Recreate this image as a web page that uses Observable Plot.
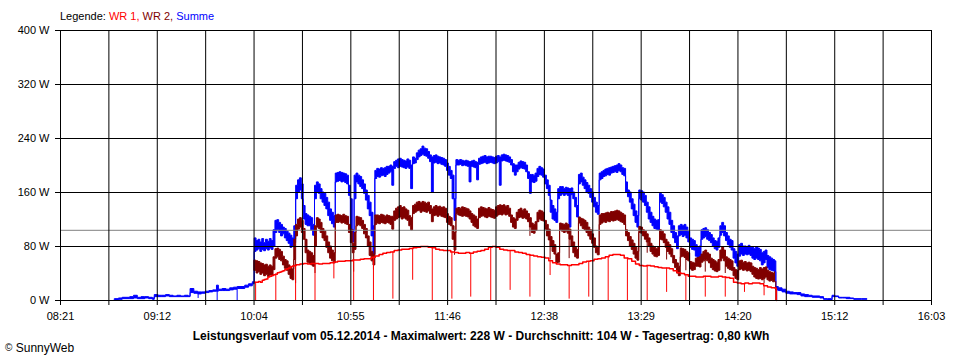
<!DOCTYPE html>
<html>
<head>
<meta charset="utf-8">
<script src="https://cdn.jsdelivr.net/npm/d3@7"></script>
<script src="https://cdn.jsdelivr.net/npm/@observablehq/plot@0.6"></script>
<style>
  html, body { margin: 0; padding: 0; background: #fff; }
  #wrap { position: relative; width: 960px; height: 360px; font-family: Arial, "Liberation Sans", sans-serif; font-size: 11px; color: #000; }
  #wrap svg { display: block; position: absolute; left: 0; top: 0; }
  #legend { position: absolute; left: 60px; top: 10px; white-space: nowrap; }
  #caption { position: absolute; left: 0; top: 329px; width: 962px; text-align: center; font-weight: bold; font-size: 12px; white-space: nowrap; }
  #copy { position: absolute; left: 5px; top: 341px; white-space: nowrap; font-size: 12px; }
  #copy .c { font-size: 10px; position: relative; top: -1px; }
</style>
</head>
<body>
<div id="wrap">
  <div id="legend">Legende: <span style="color:#ff0000">WR 1,</span> <span style="color:#800000">WR 2,</span> <span style="color:#0000ff">Summe</span></div>
  <div id="caption">Leistungsverlauf vom 05.12.2014 - Maximalwert: 228 W - Durchschnitt: 104 W - Tagesertrag: 0,80 kWh</div>
  <div id="copy"><span class="c">©</span> SunnyWeb</div>
</div>
<script>
// time axis: minutes since midnight
const xStart = 501, xEnd = 963; // 08:21 .. 16:03
const timeLabels = ["08:21","09:12","10:04","10:55","11:46","12:38","13:29","14:20","15:12","16:03"];
const yTicks = [0, 80, 160, 240, 320, 400];
const avgPower = 104;

// Summe, early part (before 10:04)
const sumEarlyT  = [530,532,534,536,538,540,542,544,546,548,550,551,553,555,557,559,561,563,565,567,569,570,572,574,576,578,580,582,584,585,587,589,591,593,595,597,599,601,603];
const sumEarlyLo = [0,1,2,2,2,3,2,2,3,2,1,5,5,5,6,5,5,5,5,5,5,11,10,9,10,11,12,13,13,14,14,14,15,16,17,17,19,21,24];
const sumEarlyHi = [2,3,4,4,5,7,4,5,5,4,3,8,7,7,8,7,6,7,6,7,6,17,13,12,12,13,14,15,22,16,17,16,18,19,20,20,22,24,27];

// common minute samples 10:04 .. 14:40
const midT = [
604,605,606,607,608,609,610,611,612,613,
614,615,616,617,618,619,620,621,622,623,
624,625,626,627,628,629,630,631,632,633,
634,635,636,637,638,639,640,641,642,643,
644,645,646,647,648,649,650,651,652,653,
654,655,656,657,658,659,660,661,662,663,
664,665,666,667,668,669,670,671,672,673,
674,675,676,677,678,679,680,681,682,683,
684,685,686,687,688,689,690,691,692,693,
694,695,696,697,698,699,700,701,702,703,
704,705,706,707,708,709,710,711,712,713,
714,715,716,717,718,719,720,721,722,723,
724,725,726,727,728,729,730,731,732,733,
734,735,736,737,738,739,740,741,742,743,
744,745,746,747,748,749,750,751,752,753,
754,755,756,757,758,759,760,761,762,763,
764,765,766,767,768,769,770,771,772,773,
774,775,776,777,778,779,780,781,782,783,
784,785,786,787,788,789,790,791,792,793,
794,795,796,797,798,799,800,801,802,803,
804,805,806,807,808,809,810,811,812,813,
814,815,816,817,818,819,820,821,822,823,
824,825,826,827,828,829,830,831,832,833,
834,835,836,837,838,839,840,841,842,843,
844,845,846,847,848,849,850,851,852,853,
854,855,856,857,858,859,860,861,862,863,
864,865,866,867,868,869,870,871,872,873,
874,875,876,877,878,879,880];

// Summe band (low / high of the noisy trace)
const sumLo = [
72,74,76,72,75,73,76,74,77,75,
80,100,104,100,95,98,92,88,84,78,
80,85,150,160,163,150,120,112,110,110,
104,96,150,160,158,150,145,140,135,125,
118,113,108,175,176,177,175,176,174,172,
155,100,86,150,175,172,168,165,158,148,
135,125,95,67,180,183,182,184,185,183,
186,188,190,170,195,198,196,198,197,196,
195,197,195,165,202,203,208,212,214,216,
214,213,210,205,160,203,204,202,203,201,
200,198,192,185,180,150,118,200,200,201,
199,200,199,198,175,198,197,196,178,201,
202,203,204,202,203,204,203,202,203,205,
170,206,207,206,205,204,200,190,185,190,
194,196,195,194,190,180,158,175,174,176,
183,186,185,182,172,165,155,130,120,118,
115,150,155,157,155,157,155,108,156,150,
138,123,172,175,170,165,160,158,152,145,
138,130,127,178,180,183,184,186,185,188,
189,190,189,192,190,186,184,160,153,145,
135,125,115,108,150,148,145,140,130,120,
115,110,106,105,104,145,143,138,130,120,
112,100,92,85,76,95,97,94,96,92,
86,78,75,74,65,59,62,90,92,94,
90,88,85,80,76,74,78,96,100,95,
88,82,78,74,62,55,50,65,68,66,
68,67,68,66,62,60,62,60,58,52,
55,60,48,45,44,43,42];
const sumHi = [
92,88,90,86,91,85,90,87,91,88,
104,118,119,115,112,108,106,102,99,96,
92,110,170,178,181,172,140,128,126,124,
122,112,170,175,172,165,160,158,152,145,
135,130,125,188,189,190,189,188,187,185,
170,150,104,185,188,185,183,178,172,163,
155,145,130,110,192,195,194,196,195,196,
198,198,200,198,205,207,209,210,208,207,
206,209,207,200,212,210,218,222,224,228,
225,224,220,215,212,214,215,213,212,211,
210,208,203,198,192,185,150,208,207,208,
207,206,207,206,205,206,207,205,204,210,
212,213,214,212,213,213,212,211,213,214,
212,215,216,215,214,212,208,202,200,200,
204,206,205,204,200,190,186,186,185,188,
195,198,196,194,185,178,170,148,140,135,
130,165,168,168,165,167,166,165,166,160,
152,140,186,188,182,178,174,170,165,160,
152,145,140,188,190,192,194,195,196,197,
198,199,200,202,200,196,195,175,163,160,
150,142,132,125,163,162,160,155,145,138,
130,124,120,118,119,158,156,152,145,138,
130,118,110,100,95,110,112,110,112,108,
102,92,90,88,82,78,80,104,106,107,
104,100,97,92,88,87,92,110,115,110,
100,95,90,88,76,72,68,82,84,80,
80,79,81,78,78,76,79,77,75,70,
72,74,66,64,62,60,58];

// Summe, late part (after 14:40)
const sumLateT  = [880.7,882,884,886,888,890,892,894,896,898,900,902,904,906,908,910,910.5,912,914,916,918,920,922,926,929];
const sumLateLo = [15,14,12,10,9,9,8,6,5,5,4,4,3,1,0,0,5,5,3,3,2,2,1,1,1];
const sumLateHi = [20,18,16,13,12,11,11,9,8,7,6,6,5,2,2,1,7,6,4,4,4,3,2,2,2];

// WR 2 band
const wr2Lo = [
44,40,42,38,40,36,38,35,37,36,
45,62,64,60,58,52,47,44,38,32,
30,60,95,105,108,100,90,70,56,54,
52,50,80,108,106,100,92,88,78,70,
62,58,55,115,115,116,114,115,113,112,
100,85,70,75,110,112,110,106,98,92,
80,66,58,52,112,114,113,115,114,113,
115,114,112,105,118,120,122,123,120,122,
120,118,110,104,128,130,132,133,130,132,
131,130,132,128,116,125,126,124,126,124,
123,122,115,112,110,90,74,128,126,125,
124,125,124,123,120,115,110,108,106,122,
124,125,123,122,124,123,122,121,124,126,
127,126,128,126,127,124,115,108,106,118,
122,123,121,122,120,116,108,100,99,103,
116,120,118,117,105,95,89,80,72,68,
55,56,104,102,100,102,99,90,80,70,
64,62,114,110,106,104,100,95,90,84,
78,70,67,112,114,116,115,117,116,118,
117,118,119,118,116,115,112,95,88,80,
75,68,62,59,100,99,95,90,86,80,
72,68,65,64,66,90,89,85,78,72,
68,64,55,48,40,36,64,65,63,60,
58,46,44,45,50,50,49,56,58,60,
58,55,48,45,43,42,44,58,62,58,
50,47,45,44,36,32,30,45,46,44,
45,43,44,42,38,34,32,31,32,30,
32,34,30,28,29,27,28];
const wr2Hi = [
59,58,57,55,54,52,53,50,52,50,
64,76,77,75,72,65,60,58,52,48,
46,90,112,120,122,118,106,90,74,72,
70,66,110,122,120,115,106,102,95,86,
80,74,70,126,127,126,125,127,125,124,
112,105,84,100,124,123,122,118,112,106,
95,86,72,68,126,126,125,127,126,124,
126,125,124,124,132,136,138,140,137,138,
135,133,125,122,140,142,145,146,144,146,
145,143,145,140,135,138,140,138,139,137,
138,136,128,124,122,110,100,136,137,136,
138,137,136,135,132,128,126,124,120,136,
138,137,136,135,137,135,134,133,138,140,
141,140,141,139,140,136,126,122,120,130,
134,136,133,135,132,128,122,114,112,116,
130,133,132,130,118,112,105,94,88,82,
68,70,114,113,112,114,112,105,95,86,
78,75,123,121,120,118,115,108,104,98,
92,80,78,126,128,128,129,130,129,131,
131,132,133,132,130,128,126,104,100,94,
89,84,78,72,109,108,104,102,98,92,
84,80,78,76,78,104,102,98,90,86,
82,76,66,60,55,50,77,76,75,72,
70,57,56,55,62,63,64,68,72,74,
70,68,62,60,58,56,60,74,79,74,
64,62,60,58,48,45,44,58,59,56,
57,55,56,55,50,48,47,45,48,46,
48,49,44,42,41,40,42];

// WR 1 trace
const wr1T = [604,605,606,607,608,609,610,611,612,613,614,615,616,617,618,619,620,621,622,623,624,625,
626,628,630,632,634,636,638,640,642,644,646,648,650,652,654,656,658,660,662,664,666,668,670,672,674,676,678,680,
682,684,686,688,690,692,694,696,698,700,702,704,706,708,710,712,714,716,718,720,722,724,726,728,730,732,734,736,738,740,
742,744,746,748,750,752,754,756,758,760,762,764,766,768,770,772,774,776,778,780,782,784,786,788,790,792,794,796,798,800,
802,804,806,808,810,812,814,816,818,820,822,824,826,828,830,832,834,836,838,840,842,844,846,848,850,852,854,856,858,860,
862,864,866,868,870,872,874,876,878,880,880.7];
const wr1V = [27,27,28,27,30,31,32,35,36,37,38,39,41,42,43,44,46,47,48,50,51,52,
53,54,55,54,55,55,54,55,55,56,57,58,58,59,59,60,60,61,62,62,64,66,68,70,71,72,74,75,
76,76,77,78,79,80,80,79,78,76,75,74,74,72,71,70,70,71,70,72,73,74,76,79,80,79,76,75,74,74,
72,71,70,68,67,66,65,64,63,59,56,54,53,53,52,53,53,55,57,58,59,61,62,63,65,67,68,68,67,63,
62,58,54,52,51,52,51,50,49,48,48,47,44,41,40,38,36,36,35,35,36,36,35,35,36,35,34,33,27,26,
25,26,25,26,26,25,22,20,19,18,0];

// short drop-outs (time, lowest value)
const wr1DipT   = [604.5,615.2,625.7,636,646,656.5,667,677.3,687.8,698.2,708.6,718.6,729.2,739.5,750,760.7,770.8,781.2,791.5,801.7,812.2,822.5,832.7,843,853.6,863.8,874.2];
const wr1DipMin = [0,0,0,0,32,0,0,2,30,0,2,5,0,15,5,37,2,5,0,0,0,12,0,5,5,12,7];
const wr2DipT   = [625.7,636,656.5,667,710,750,760.7,770.8,812.2,822.5,832.7,843,853.6,874.2,880.4];
const wr2DipMin = [25,40,42,45,67,95,60,62,70,60,44,42,40,25,0];
const sumDipT   = [574,584.1,594.7,880.9];
const sumDipMin = [3,0,0,0];

// assemble
const sumT  = sumEarlyT.concat(midT, sumLateT);
const sumL  = sumEarlyLo.concat(sumLo, sumLateLo);
const sumH  = sumEarlyHi.concat(sumHi, sumLateHi);

function valueAt(T, V, t) {
  const i = Math.max(0, d3.bisectRight(T, t) - 1);
  return V[i];
}
const idx = n => d3.range(n);
const step = (xEnd - xStart) / 18;
const gridX = d3.range(19).map(k => xStart + k * step);

const cSum = "#0000ff", cWr2 = "#800000", cWr1 = "#ff0000";

const chart = Plot.plot({
  width: 960, height: 360,
  marginTop: 30, marginBottom: 60, marginLeft: 60, marginRight: 29,
  x: { domain: [xStart, xEnd] },
  y: { domain: [0, 400] },
  style: { fontFamily: "Arial, 'Liberation Sans', sans-serif", fontSize: "11px", color: "#000", background: "transparent" },
  marks: [
    Plot.areaY(idx(sumT.length), { x: i => sumT[i], y1: i => sumL[i], y2: i => sumH[i], curve: "step-after", fill: cSum, stroke: cSum, strokeWidth: 1 }),
    Plot.ruleX(idx(sumDipT.length), { x: i => sumDipT[i], y1: i => sumDipMin[i], y2: i => valueAt(sumT, sumL, sumDipT[i]), stroke: cSum, strokeWidth: 1 }),
    Plot.areaY(idx(midT.length), { x: i => midT[i], y1: i => wr2Lo[i], y2: i => wr2Hi[i], curve: "step-after", fill: cWr2, stroke: cWr2, strokeWidth: 1 }),
    Plot.ruleX(idx(wr2DipT.length), { x: i => wr2DipT[i], y1: i => wr2DipMin[i], y2: i => valueAt(midT, wr2Lo, wr2DipT[i]), stroke: cWr2, strokeWidth: 1 }),
    Plot.line(idx(wr1T.length), { x: i => wr1T[i], y: i => wr1V[i], curve: "step-after", stroke: cWr1, strokeWidth: 1.5 }),
    Plot.ruleX(idx(wr1DipT.length), { x: i => wr1DipT[i], y1: i => wr1DipMin[i], y2: i => valueAt(wr1T, wr1V, wr1DipT[i]), stroke: cWr1, strokeWidth: 1 }),
    Plot.ruleY([avgPower], { stroke: "#808080", strokeWidth: 1 }),
    Plot.ruleX(gridX, { stroke: "#000", strokeWidth: 1 }),
    Plot.ruleY(yTicks, { stroke: "#000", strokeWidth: 1 }),
    Plot.axisX({ ticks: gridX, tickSize: 5, tickPadding: 7, label: null,
      tickFormat: d => { const k = Math.round((d - xStart) / step); return k % 2 === 0 ? timeLabels[k / 2] : ""; } }),
    Plot.axisY({ ticks: yTicks, tickSize: 5, tickPadding: 6, label: null, tickFormat: d => d + " W" })
  ]
});
document.getElementById("wrap").prepend(chart);
</script>
</body>
</html>
